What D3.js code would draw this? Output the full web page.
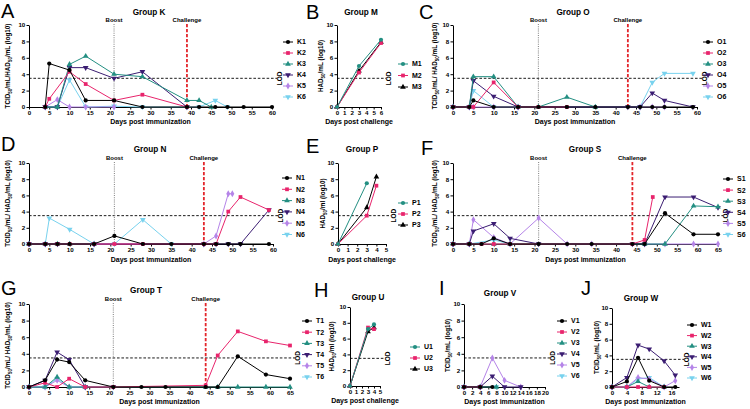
<!DOCTYPE html>
<html><head><meta charset="utf-8">
<script src="https://cdn.jsdelivr.net/npm/d3@7"></script>
<style>
body{margin:0;background:#fff}
svg{display:block}
text{font-family:"Liberation Sans",Arial,Helvetica,sans-serif}
</style>
</head><body>
<svg id="c" width="750" height="409"></svg>
<script>
// ---------------- DATA ----------------
const LOD = 3.5;
// Group K  [day, log10 titre]
const K1=[[4,0],[5,5.3],[10,4.5],[14,0.8],[21,0.8],[28,0],[39,0],[42,0],[46,0],[49,0],[53,0],[60,0]];
const K2=[[4,0],[5,1.0],[10,4.3],[14,2.8],[21,0.8],[28,1.5],[39,0]];
const K3=[[4,0],[7,0],[10,5.2],[14,6.2],[21,4.0],[28,3.7],[39,0.8],[42,0.8],[45,0]];
const K4=[[4,0],[7,0],[10,4.8],[14,4.8],[21,3.5],[28,4.3],[39,0]];
const K5=[[4,0],[7,0.9],[10,0],[14,0],[21,0]];
const K6=[[4,0],[7,0],[10,3.3],[14,0],[21,0.1],[28,0],[39,0],[42,0],[46,0.8],[49,0]];
// Group M
const M1=[[0,0],[3,5.0],[6,8.2]];
const M2=[[0,0],[3,4.2],[6,7.8]];
const M3=[[0,0],[3,4.4],[6,7.9]];
// Group O
const O1=[[0,0],[4,0],[5,0.8],[10,0],[16,0],[21,0],[28,0],[35,0],[43,0],[46,0],[49,0],[52,0],[59,0]];
const O2=[[0,0],[4,0],[5,0],[10,3.0],[16,0],[21,0],[28,0]];
const O3=[[0,0],[4,0],[5,3.7],[10,3.7],[16,0],[21,0],[28,1.2],[35,0]];
const O4=[[0,0],[4,0],[5,3.2],[10,1.3],[16,0],[43,0],[46,0],[49,1.7],[52,0.8],[59,0]];
const O5=[[0,0],[4,0],[5,0],[10,0],[16,0],[46,0],[49,0],[52,0]];
const O6=[[0,0],[4,0],[5,2.0],[10,0],[16,0],[46,0],[49,3.0],[52,4.1],[59,4.1]];
// Group N
const N1=[[0,0],[4,0],[7,0],[10,0],[16,0],[21,1.0],[28,0],[35,0],[43,0],[46,0],[49,0],[52,0],[59,0]];
const N2=[[0,0],[4,0],[7,0],[10,0],[16,0],[21,0],[28,0],[43,0],[46,0],[49,4.0],[52,5.8],[59,4.2]];
const N3=[[0,0],[4,0],[7,0],[10,0],[16,0]];
const N4=[[0,0],[4,0],[7,0],[16,0],[43,0],[46,0],[49,0],[52,0],[59,4.2]];
const N5=[[0,0],[4,0],[16,0],[43,0],[46,1.0],[49,6.2],[50,6.2]];
const N6=[[0,0],[4,0],[5,3.2],[10,1.8],[16,0],[21,0],[28,3.0],[35,0]];
// Group P
const P1=[[0,0],[3,7.5]];
const P2=[[0,0],[3,3.5],[4,7.2]];
const P3=[[0,0],[3,4.5],[4,8.3]];
// Group S
const S1=[[0,0],[4,0],[7,0],[10,0.7],[14,0],[21,0],[28,0],[34,0],[44,0],[47,0],[52,3.8],[59,1.2],[65,1.2]];
const S2=[[0,0],[4,0],[7,0],[10,0],[14,0],[44,0],[47,0.5],[49,5.8]];
const S3=[[0,0],[4,0],[10,0],[14,0],[47,0],[52,0],[59,4.7],[65,4.6]];
const S4=[[0,0],[4,0],[5,1.6],[10,2.5],[14,0.7],[21,0],[44,0],[47,0],[52,5.8],[59,5.8],[65,4.5]];
const S5=[[0,0],[4,0],[5,3.0],[10,0.8],[14,0],[21,3.2],[28,0],[34,0],[47,0],[52,0],[59,0],[65,0]];
const S6=[[0,0],[4,0],[10,0.5],[14,0]];
// Group T
const T1=[[0,0],[4,0.8],[7,3.3],[10,3.0],[14,0.8],[21,0],[28,0],[34,0],[44,0],[47,0],[52,3.7],[59,1.5],[65,1.0]];
const T2=[[0,0],[4,0.5],[7,0],[10,1.0],[14,0],[21,0],[44,0.2],[47,3.8],[52,6.7],[59,5.5],[65,5.0]];
const T3=[[0,0],[4,0],[7,1.2],[10,0],[14,0],[44,0],[47,0],[52,0],[59,0],[65,0]];
const T4=[[0,0],[4,0.8],[7,4.2],[10,3.3],[14,0],[21,0]];
const T5=[[0,0],[4,0],[7,0.8],[10,0],[14,0]];
const T6=[[0,0],[4,0],[7,1.0],[10,0],[14,0]];
// Group U
const U1=[[0,0],[3,7.2],[4,7.8]];
const U2=[[0,0],[3,7.4],[4,7.2]];
const U3=[[0,0],[3,6.9],[4,7.4]];
// Group V
const V1=[[0,0],[4,0],[7,0]];
const V2=[[0,0],[4,0]];
const V3=[[0,0],[4,0],[8,0]];
const V4=[[0,0],[4,0],[7,1.3],[10,0],[14,0]];
const V5=[[0,0],[4,0],[7,3.5],[10,0.8],[14,0]];
const V6=[[0,0],[4,0],[8,0]];
// Group W
const W1=[[0,0],[4,0.7],[7,3.7],[10,0.8],[14,0],[17,0]];
const W2=[[0,0],[4,0],[7,0],[10,0],[14,0]];
const W3=[[0,0],[4,0],[7,0.7],[10,0],[14,0]];
const W4=[[0,0],[4,1.2],[7,5.3],[10,4.8],[14,3.3],[17,1.5]];
const W5=[[0,0],[4,0],[7,1.2],[10,1.0],[14,0],[17,0.8]];
const W6=[[0,0],[4,0],[7,1.0],[10,1.2],[14,0]];

const yTicks=[0,2,4,6,8,10];

// ---------------- STYLE ----------------
const C6=["#000000","#e8246c","#238f82","#3b1d72","#b584e8","#78d2ee"];
const C3=["#238f82","#e8246c","#000000"];
const SH6=["circle","square","triangle","tridown","diamond","tridown"];
const SH3=["circle","square","triangle"];
const YL={
 tcidHad:[["TCID"],["50",1],["/mL/HAD"],["50",1],["/mL (log10)"]],
 tcidHad2:[["TCID"],["50",1],["/mL/ HAD"],["50",1],["/mL (log10)"]],
 hadmL:[["HAD"],["50",1],["/mL (log10)"]],
 hadml:[["HAD"],["50",1],["/ml (log10)"]],
 tcid:[["TCID"],["50",1],["/mL (log10)"]]
};
const XI="Days post immunization", XC="Days post challenge";

const panels=[
 {letter:"A",lx:1,ly:18,title:"Group K",tx:149,ty:15,names:["K1","K2","K3","K4","K5","K6"],data:[K1,K2,K3,K4,K5,K6],cols:C6,sh:SH6,
  x0:29,x1:272,xmax:60,xticks:d3.range(0,61,5),yb:107,yt:25,boost:21,chal:39,evY:22,yl:"tcidHad",yx:10,xl:XI,xly:124,legX:288,legY:42,legDy:11},
 {letter:"B",lx:306,ly:19,title:"Group M",tx:361,ty:15,names:["M1","M2","M3"],data:[M1,M2,M3],cols:C3,sh:SH3,
  x0:337,x1:381,xmax:6,xticks:d3.range(0,7,1),yb:107,yt:25,yl:"hadmL",yx:323,xl:XC,xly:124,legX:403,legY:64,legDy:11.5},
 {letter:"C",lx:419,ly:19,title:"Group O",tx:573,ty:15,names:["O1","O2","O3","O4","O5","O6"],data:[O1,O2,O3,O4,O5,O6],cols:C6,sh:SH6,
  x0:453,x1:697,xmax:60,xticks:d3.range(0,61,5),yb:107,yt:25,boost:21,chal:43,evY:22,yl:"tcidHad2",yx:437,xl:XI,xly:124,legX:708,legY:42,legDy:11},
 {letter:"D",lx:1,ly:151,title:"Group N",tx:150,ty:152,names:["N1","N2","N3","N4","N5","N6"],data:[N1,N2,N3,N4,N5,N6],cols:C6,sh:SH6,
  x0:29,x1:273,xmax:60,xticks:d3.range(0,61,5),yb:244,yt:163,boost:21,chal:43,evY:160,yl:"tcidHad2",yx:10,xl:XI,xly:262,legX:287,legY:178,legDy:11.3},
 {letter:"E",lx:306,ly:153,title:"Group P",tx:362,ty:152,names:["P1","P2","P3"],data:[P1,P2,P3],cols:C3,sh:SH3,
  x0:338,x1:386,xmax:5,xticks:d3.range(0,6,1),yb:244,yt:163,yl:"hadml",yx:325,xl:XC,xly:262,legX:403,legY:203,legDy:11},
 {letter:"F",lx:421,ly:155,title:"Group S",tx:585,ty:152,names:["S1","S2","S3","S4","S5","S6"],data:[S1,S2,S3,S4,S5,S6],cols:C6,sh:SH6,
  x0:453,x1:718,xmax:65,xticks:d3.range(0,66,5),yb:244,yt:163,boost:21,chal:44,evY:160,yl:"tcidHad2",yx:437,xl:XI,xly:262,legX:728,legY:179,legDy:11.1},
 {letter:"G",lx:1,ly:295,title:"Group T",tx:146,ty:293,names:["T1","T2","T3","T4","T5","T6"],data:[T1,T2,T3,T4,T5,T6],cols:C6,sh:SH6,
  x0:29,x1:290,xmax:65,xticks:d3.range(0,66,5),yb:387,yt:304,boost:21,chal:44,evY:301,yl:"tcidHad2",yx:10,xl:XI,xly:404,legX:307,legY:321,legDy:11.2},
 {letter:"H",lx:314,ly:297,title:"Group U",tx:368,ty:300,names:["U1","U2","U3"],data:[U1,U2,U3],cols:C3,sh:SH3,
  x0:350,x1:380,xmax:5,xticks:d3.range(0,6,1),yb:386,yt:307,yl:"hadml",yx:334,xl:XC,xly:403,legX:415,legY:347,legDy:11},
 {letter:"I",lx:439,ly:295,title:"Group V",tx:500,ty:296,names:["V1","V2","V3","V4","V5","V6"],data:[V1,V2,V3,V4,V5,V6],cols:C6,sh:SH6,
  x0:464,x1:545,xmax:20,xticks:d3.range(0,21,2),yb:387,yt:304,yl:"tcid",yx:450,xl:XI,xly:404,legX:562,legY:321,legDy:11},
 {letter:"J",lx:581,ly:295,title:"Group W",tx:641,ty:301,names:["W1","W2","W3","W4","W5","W6"],data:[W1,W2,W3,W4,W5,W6],cols:C6,sh:SH6,
  x0:612,x1:679,xmax:18,xticks:[0,4,8,12,16],yb:387,yt:308,yl:"tcid",yx:599,xl:XI,xly:404,legX:692,legY:325,legDy:10.6}
];

// ---------------- DRAW ----------------
const svg=d3.select("#c");
svg.append("rect").attr("width",750).attr("height",409).attr("fill","#fff");

function symPath(shape,size){
  const t={circle:d3.symbolCircle,square:d3.symbolSquare,triangle:d3.symbolTriangle,tridown:d3.symbolTriangle,diamond:d3.symbolDiamond}[shape];
  return d3.symbol().type(t).size(size)();
}
function drawMarker(g,shape,color,cx,cy,size){
  g.append("path").attr("d",symPath(shape,size)).attr("fill",color)
   .attr("transform",`translate(${cx},${cy})`+(shape==="tridown"?" rotate(180)":""));
}

function drawPanel(p){
  const g=svg.append("g");
  const x=d3.scaleLinear().domain([0,p.xmax]).range([p.x0,p.x1]);
  const y=d3.scaleLinear().domain([0,10]).range([p.yb,p.yt]);
  const fmt=d3.format("d");

  // panel letter
  g.append("text").attr("x",p.lx).attr("y",p.ly).attr("font-size",20).text(p.letter);
  // title
  g.append("text").attr("x",p.tx).attr("y",p.ty).attr("text-anchor","middle")
   .attr("font-size",8.2).attr("font-weight","bold").text(p.title);

  // LOD line
  g.append("line").attr("x1",p.x0).attr("x2",p.x1+5).attr("y1",y(LOD)).attr("y2",y(LOD))
   .attr("stroke","#000").attr("stroke-width",0.9).attr("stroke-dasharray","2.6,1.8");
  g.append("text").attr("transform",`translate(${p.x1+10},${y(LOD)}) rotate(-90)`)
   .attr("text-anchor","middle").attr("font-size",6.5).attr("font-weight","bold").text("LOD");

  // boost & challenge
  if(p.boost!=null){
    g.append("line").attr("x1",x(p.boost)).attr("x2",x(p.boost)).attr("y1",p.evY+2).attr("y2",p.yb)
     .attr("stroke","#8a8a8a").attr("stroke-width",1.1).attr("stroke-dasharray","1,1.2");
    g.append("text").attr("x",x(p.boost)).attr("y",p.evY).attr("text-anchor","middle")
     .attr("font-size",6).attr("font-weight","bold").text("Boost");
  }
  if(p.chal!=null){
    g.append("line").attr("x1",x(p.chal)).attr("x2",x(p.chal)).attr("y1",p.evY+2).attr("y2",p.yb)
     .attr("stroke","#e3262b").attr("stroke-width",1.8).attr("stroke-dasharray","3.2,1.8");
    g.append("text").attr("x",x(p.chal)).attr("y",p.evY).attr("text-anchor","middle")
     .attr("font-size",6).attr("font-weight","bold").text("Challenge");
  }

  // axes
  const ya=g.append("g").attr("transform",`translate(${p.x0},0)`)
    .call(d3.axisLeft(y).tickValues(yTicks).tickFormat(fmt).tickSize(2.5).tickSizeOuter(0).tickPadding(1.2));
  const xa=g.append("g").attr("transform",`translate(0,${p.yb})`)
    .call(d3.axisBottom(x).tickValues(p.xticks).tickFormat(fmt).tickSize(2.5).tickSizeOuter(0).tickPadding(1.5));
  [ya,xa].forEach(a=>{
    a.attr("font-family",null).attr("font-size",null);
    a.selectAll("text").attr("font-size",6.2).attr("font-weight","bold").attr("fill","#000");
    a.selectAll("line,path").attr("stroke","#000").attr("stroke-width",1);
  });

  // axis titles
  g.append("text").attr("x",(p.x0+p.x1)/2).attr("y",p.xly).attr("text-anchor","middle")
   .attr("font-size",7).attr("font-weight","bold").text(p.xl);
  const yt=g.append("text").attr("transform",`translate(${p.yx},${(p.yb+p.yt)/2}) rotate(-90)`)
   .attr("text-anchor","middle").attr("font-size",6.3).attr("font-weight","bold");
  let prevSub=false;
  YL[p.yl].forEach(([s,sub])=>{
    const ts=yt.append("tspan").text(s);
    if(sub){ts.attr("font-size",4.5).attr("dy",1.5);}
    else if(prevSub){ts.attr("dy",-1.5);}
    prevSub=!!sub;
  });

  // series
  const line=d3.line().x(d=>x(d[0])).y(d=>y(d[1]));
  const order=d3.range(p.data.length).reverse();
  order.forEach(i=>{
    const d=p.data[i];
    g.append("path").attr("d",line(d)).attr("fill","none").attr("stroke",p.cols[i]).attr("stroke-width",1);
    d.forEach(pt=>drawMarker(g,p.sh[i],p.cols[i],x(pt[0]),y(pt[1]),14));
  });

  // legend
  p.names.forEach((n,i)=>{
    const ly=p.legY+i*p.legDy;
    g.append("line").attr("x1",p.legX-5).attr("x2",p.legX+5).attr("y1",ly).attr("y2",ly)
     .attr("stroke",p.cols[i]).attr("stroke-width",1);
    drawMarker(g,p.sh[i],p.cols[i],p.legX,ly,14);
    g.append("text").attr("x",p.legX+9).attr("y",ly+2.4).attr("font-size",7).attr("font-weight","bold").text(n);
  });
}
panels.forEach(drawPanel);
</script>
</body></html>
